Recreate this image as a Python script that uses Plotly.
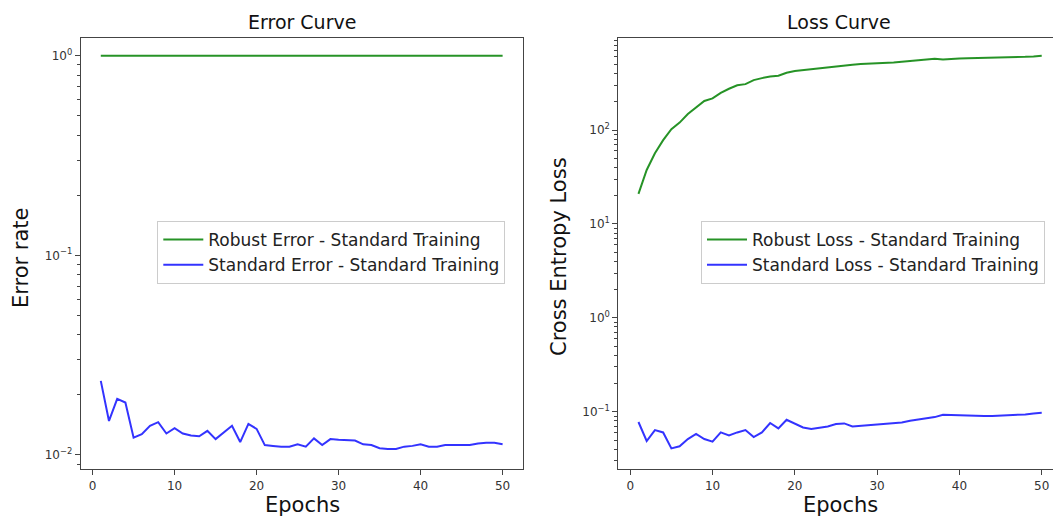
import plotly.graph_objects as go

epochs = list(range(1, 51))

robust_error = [1.0] * 50
standard_error = [
    0.0235, 0.0148, 0.0191, 0.0183, 0.0122, 0.0127, 0.0140, 0.0146, 0.0128, 0.0136,
    0.0128, 0.0125, 0.0124, 0.0132, 0.0120, 0.0129, 0.0140, 0.0116, 0.0143, 0.0135,
    0.0112, 0.0111, 0.0110, 0.0110, 0.0113, 0.0110, 0.0121, 0.0112, 0.0120, 0.0119,
    0.0119, 0.0118, 0.0113, 0.0112, 0.0108, 0.0107, 0.0107, 0.0110, 0.0111, 0.0113,
    0.0110, 0.0110, 0.0112, 0.0112, 0.0112, 0.0112, 0.0114, 0.0115, 0.0115, 0.0113,
]

robust_loss = [
    20.9, 37.5, 56.5, 78, 102, 120, 148, 173, 204, 217,
    249, 275, 299, 308, 340, 357, 372, 378, 407, 425,
    435, 446, 457, 468, 479, 483, 495, 504, 507, 512,
    516, 525, 533, 542, 551, 565, 574, 565, 574, 579,
    580, 582, 583, 585, 587, 590, 593, 602, 608, 617,
]
standard_loss = [
    0.0777, 0.0488, 0.0638, 0.0602, 0.0407, 0.0428, 0.0512, 0.0580, 0.0512, 0.0480,
    0.0602, 0.0560, 0.0602, 0.0638, 0.0537, 0.0602, 0.0758, 0.0664, 0.0822, 0.0740,
    0.0680, 0.0654, 0.0670, 0.0698, 0.0740, 0.0751, 0.0698, 0.0710, 0.0715, 0.0725,
    0.0740, 0.0751, 0.0770, 0.0802, 0.0828, 0.0857, 0.0877, 0.0929, 0.0922, 0.0906,
    0.0906, 0.0899, 0.0899, 0.0899, 0.0906, 0.0914, 0.0922, 0.0937, 0.0960, 0.0976,
]

x_ticks = [0, 10, 20, 30, 40, 50]
err_ticks = [1e-2, 1e-1, 1e0]
err_ticktext = ["10<sup>−2</sup>", "10<sup>−1</sup>", "10<sup>0</sup>"]
loss_ticks = [1e-1, 1e0, 1e1, 1e2]
loss_ticktext = ["10<sup>−1</sup>", "10<sup>0</sup>", "10<sup>1</sup>", "10<sup>2</sup>"]

GREEN = "rgba(0,128,0,0.85)"
BLUE = "rgba(0,0,255,0.8)"
FONT = "DejaVu Sans"

W, H = 1053, 518


def px_x(p):
    return p / W


def px_y(p):
    return (H - p) / H


def minor_vals(lo, hi):
    vals = []
    for e in range(lo, hi + 1):
        for m in range(2, 10):
            vals.append(m * 10 ** e)
    return vals


fig = go.Figure()
fig.add_trace(go.Scatter(x=epochs, y=robust_error, mode="lines", name="Robust Error - Standard Training",
                         line=dict(color=GREEN, width=2), xaxis="x", yaxis="y", legend="legend"))
fig.add_trace(go.Scatter(x=epochs, y=standard_error, mode="lines", name="Standard Error - Standard Training",
                         line=dict(color=BLUE, width=2), xaxis="x", yaxis="y", legend="legend"))
fig.add_trace(go.Scatter(x=epochs, y=robust_loss, mode="lines", name="Robust Loss - Standard Training",
                         line=dict(color=GREEN, width=2), xaxis="x2", yaxis="y2", legend="legend2"))
fig.add_trace(go.Scatter(x=epochs, y=standard_loss, mode="lines", name="Standard Loss - Standard Training",
                         line=dict(color=BLUE, width=2), xaxis="x2", yaxis="y2", legend="legend2"))

ydom = [px_y(469.3), px_y(37.7)]
axis_common = dict(showgrid=False, zeroline=False, showline=True, linecolor="#444", linewidth=1,
                   mirror=True, ticks="outside", ticklen=5, tickcolor="#444",
                   tickfont=dict(family=FONT, size=12, color="#333"))

legend_common = dict(xanchor="left", yanchor="top", bgcolor="white", bordercolor="#ccc",
                     borderwidth=1, itemwidth=40, font=dict(family=FONT, size=17, color="#222"))

fig.update_layout(
    width=W, height=H,
    margin=dict(l=0, r=0, t=0, b=0),
    paper_bgcolor="white", plot_bgcolor="white",
    font=dict(family=FONT),
    xaxis=dict(domain=[px_x(80.7), px_x(522.7)], range=[-1.45, 52.45], anchor="y",
               tickvals=x_ticks, **axis_common),
    yaxis=dict(domain=ydom, type="log", range=[-2.072, 0.090], anchor="x",
               tickvals=err_ticks, ticktext=err_ticktext,
               minor=dict(tickvals=minor_vals(-3, 0), ticklen=3, tickcolor="#444", ticks="outside"),
               **axis_common),
    xaxis2=dict(domain=[px_x(618.3), 1.0], range=[-1.45, 51.37], anchor="y2",
                tickvals=x_ticks, **axis_common),
    yaxis2=dict(domain=ydom, type="log", range=[-1.613, 2.983], anchor="x2",
                tickvals=loss_ticks, ticktext=loss_ticktext,
                minor=dict(tickvals=minor_vals(-2, 2), ticklen=3, tickcolor="#444", ticks="outside"),
                **axis_common),
    legend=dict(x=px_x(157.3), y=px_y(221), **legend_common),
    legend2=dict(x=px_x(701), y=px_y(221), **legend_common),
    showlegend=True,
)

ann_font_title = dict(family=FONT, size=19, color="#111")
ann_font_label = dict(family=FONT, size=21, color="#111")
fig.add_annotation(text="Error Curve", x=px_x(301.7), y=px_y(22), xref="paper", yref="paper",
                   xanchor="center", yanchor="middle", showarrow=False, font=ann_font_title)
fig.add_annotation(text="Loss Curve", x=px_x(839), y=px_y(22), xref="paper", yref="paper",
                   xanchor="center", yanchor="middle", showarrow=False, font=ann_font_title)
fig.add_annotation(text="Epochs", x=px_x(302), y=px_y(505), xref="paper", yref="paper",
                   xanchor="center", yanchor="middle", showarrow=False, font=ann_font_label)
fig.add_annotation(text="Epochs", x=px_x(840), y=px_y(505), xref="paper", yref="paper",
                   xanchor="center", yanchor="middle", showarrow=False, font=ann_font_label)
fig.add_annotation(text="Error rate", x=px_x(21), y=px_y(258), xref="paper", yref="paper",
                   xanchor="center", yanchor="middle", showarrow=False, textangle=-90, font=ann_font_label)
fig.add_annotation(text="Cross Entropy Loss", x=px_x(559), y=px_y(257), xref="paper", yref="paper",
                   xanchor="center", yanchor="middle", showarrow=False, textangle=-90, font=ann_font_label)

fig.write_html(
    "out.html",
    config={"displayModeBar": False},
    post_script="document.body.style.margin='0';document.body.style.overflow='hidden';",
)
